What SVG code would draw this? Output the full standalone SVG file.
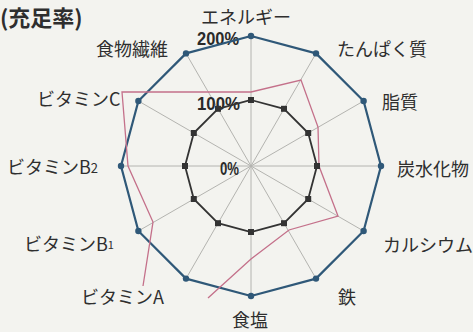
<svg xmlns="http://www.w3.org/2000/svg" width="473" height="332" viewBox="0 0 473 332">
<style>
.lbl{font-family:"Noto Sans CJK JP","Noto Sans",sans-serif;font-size:18px;fill:#2e2e2e}
.pct{font-family:"Liberation Sans","DejaVu Sans",sans-serif;font-size:18px;font-weight:bold;fill:#2a2a2a}
.spoke{stroke:#b4b4b0;stroke-width:1}
</style>
<rect width="473" height="332" fill="#f3f3ef"/>
<g id="title"><text class="lbl" x="0" y="26" style="font-size:22px;font-weight:bold">(充足率)</text></g>
<g id="grid">
<line class="spoke" x1="251" y1="166" x2="251" y2="36"/>
<line class="spoke" x1="251" y1="166" x2="316" y2="53.4"/>
<line class="spoke" x1="251" y1="166" x2="363.6" y2="101"/>
<line class="spoke" x1="251" y1="166" x2="381" y2="166"/>
<line class="spoke" x1="251" y1="166" x2="363.6" y2="231"/>
<line class="spoke" x1="251" y1="166" x2="316" y2="278.6"/>
<line class="spoke" x1="251" y1="166" x2="251" y2="296"/>
<line class="spoke" x1="251" y1="166" x2="186" y2="278.6"/>
<line class="spoke" x1="251" y1="166" x2="138.4" y2="231"/>
<line class="spoke" x1="251" y1="166" x2="121" y2="166"/>
<line class="spoke" x1="251" y1="166" x2="138.4" y2="101"/>
<line class="spoke" x1="251" y1="166" x2="186" y2="53.4"/>
</g>
<g id="scale">
<text class="pct" x="197" y="45" textLength="42" lengthAdjust="spacingAndGlyphs">200%</text>
<text class="pct" x="197" y="110" textLength="43" lengthAdjust="spacingAndGlyphs">100%</text>
<text class="pct" x="220" y="175" textLength="19" lengthAdjust="spacingAndGlyphs">0%</text>
</g>
<g id="connectors">
<polygon id="series-200" points="251,36 316,53.4 363.6,101 381,166 363.6,231 316,278.6 251,296 186,278.6 138.4,231 121,166 138.4,101 186,53.4" fill="none" stroke="#2f5878" stroke-width="2.2" stroke-linejoin="round"/>
<polyline id="series-pink" points="143,286 153,222 128,166 122,92 251,92 301,80 318,127 319,166 338,216 289,230 251,259 208,298" fill="none" stroke="#c4708a" stroke-width="1.3"/>
<polygon id="series-100" points="251,100 284,108.8 308.2,133 317,166 308.2,199 284,223.2 251,232 218,223.2 193.8,199 185,166 193.8,133 218,108.8" fill="none" stroke="#333" stroke-width="1.8"/>
</g>
<g id="markers" fill="#2f5878">
<circle cx="251" cy="36" r="3.2"/><circle cx="316" cy="53.4" r="3.2"/><circle cx="363.6" cy="101" r="3.2"/><circle cx="381" cy="166" r="3.2"/><circle cx="363.6" cy="231" r="3.2"/><circle cx="316" cy="278.6" r="3.2"/><circle cx="251" cy="296" r="3.2"/><circle cx="186" cy="278.6" r="3.2"/><circle cx="138.4" cy="231" r="3.2"/><circle cx="121" cy="166" r="3.2"/><circle cx="138.4" cy="101" r="3.2"/><circle cx="186" cy="53.4" r="3.2"/>
</g>
<g id="squares" fill="#333">
<rect x="248" y="97" width="6" height="6"/><rect x="281" y="105.8" width="6" height="6"/><rect x="305.2" y="130" width="6" height="6"/><rect x="314" y="163" width="6" height="6"/><rect x="305.2" y="196" width="6" height="6"/><rect x="281" y="220.2" width="6" height="6"/><rect x="248" y="229" width="6" height="6"/><rect x="215" y="220.2" width="6" height="6"/><rect x="190.8" y="196" width="6" height="6"/><rect x="182" y="163" width="6" height="6"/><rect x="190.8" y="130" width="6" height="6"/><rect x="215" y="105.8" width="6" height="6"/>
</g>
<g id="node-energy"><text class="lbl" x="201" y="24">エネルギー</text></g>
<g id="node-protein"><text class="lbl" x="337" y="56">たんぱく質</text></g>
<g id="node-lipid"><text class="lbl" x="382" y="109">脂質</text></g>
<g id="node-carbs"><text class="lbl" x="397" y="176">炭水化物</text></g>
<g id="node-calcium"><text class="lbl" x="383" y="252">カルシウム</text></g>
<g id="node-iron"><text class="lbl" x="338" y="304">鉄</text></g>
<g id="node-salt"><text class="lbl" x="232" y="327">食塩</text></g>
<g id="node-vita"><text class="lbl" x="81" y="304">ビタミンA</text></g>
<g id="node-vitb1"><text class="lbl" x="24" y="251">ビタミンB<tspan style="font-size:11px" dy="-2">1</tspan></text></g>
<g id="node-vitb2"><text class="lbl" x="7" y="174">ビタミンB<tspan style="font-size:13px" dy="-1">2</tspan></text></g>
<g id="node-vitc"><text class="lbl" x="37" y="106">ビタミンC</text></g>
<g id="node-fiber"><text class="lbl" x="96" y="56">食物繊維</text></g>
</svg>
